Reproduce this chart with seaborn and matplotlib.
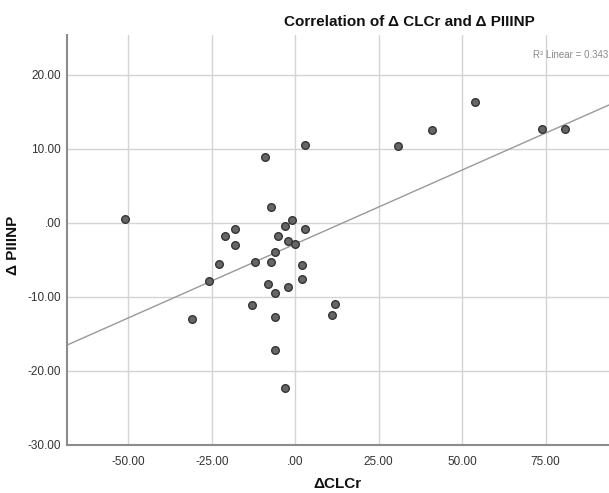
import numpy as np
import pandas as pd
import matplotlib
matplotlib.use("Agg")
import matplotlib.pyplot as plt
import seaborn as sns

# Values (delta CLCr vs delta PIIINP)
d_clcr = [-51.0, 2.9, -9.1, -7.2, -1.1, -3.1, 2.9, -18.1, -21.1, -18.1,
          -5.1, -2.1, 0.0, -6.1, -23.0, -12.0, -7.2, 2.0, -26.0, 2.0,
          -8.1, -2.1, -6.1, -13.0, -31.0, -6.0, 12.0, 11.0, -6.0, -3.1,
          30.9, 41.0, 53.9, 73.9, 80.9]
d_piiinp = [0.6, 10.6, 8.9, 2.1, 0.4, -0.45, -0.8, -0.8, -1.8, -3.0,
            -1.8, -2.5, -2.9, -3.9, -5.5, -5.3, -5.3, -5.7, -7.8, -7.6,
            -8.2, -8.7, -9.5, -11.1, -13.0, -12.7, -10.9, -12.4, -17.1, -22.3,
            10.4, 12.6, 16.4, 12.7, 12.7]

x_ticks = [-50, -25, 0, 25, 50, 75]
x_tick_labels = ["-50.00", "-25.00", ".00", "25.00", "50.00", "75.00"]
y_ticks = [-30, -20, -10, 0, 10, 20]
y_tick_labels = ["-30.00", "-20.00", "-10.00", ".00", "10.00", "20.00"]
r2_label = "R\u00b2 Linear = 0.343"

df = pd.DataFrame({"dCLCr": d_clcr, "dPIIINP": d_piiinp})

sns.set_style("white")
plt.rcParams["font.family"] = ["Liberation Sans", "DejaVu Sans"]

fig = plt.figure(figsize=(6.09, 4.93), dpi=100)
ax = fig.add_axes([0.1095, 0.0974, 0.8905, 0.8316])
ax.set_xlim(-68.5, 94)
ax.set_ylim(-30, 25.4)

ax.grid(True, color="#d4d4d4", linewidth=1)
ax.set_axisbelow(True)

sns.regplot(data=df, x="dCLCr", y="dPIIINP", ax=ax, ci=None, truncate=False,
            scatter_kws={"s": 30, "color": "#666666", "edgecolor": "#333333",
                         "linewidths": 1, "alpha": 1, "zorder": 3},
            line_kws={"color": "#999999", "linewidth": 1, "zorder": 2})
ax.set_xlim(-68.5, 94)
ax.set_ylim(-30, 25.4)

ax.set_xticks(x_ticks)
ax.set_xticklabels(x_tick_labels)
ax.set_yticks(y_ticks)
ax.set_yticklabels(y_tick_labels)
ax.tick_params(axis="x", length=0, labelsize=8.5, colors="#333333", pad=8)
ax.tick_params(axis="y", length=0, labelsize=8.5, colors="#333333", pad=4)

for side in ["top", "right"]:
    ax.spines[side].set_visible(False)
for side in ["left", "bottom"]:
    ax.spines[side].set_color("#8c8c8c")
    ax.spines[side].set_linewidth(1.5)

ax.set_xlabel("")
ax.set_ylabel("")
fig.text(337 / 609, 1 - 484 / 493, "\u0394CLCr", ha="center", va="center",
         fontsize=11, fontweight="bold", color="#111111")
fig.text(13 / 609, 1 - 245 / 493, "\u0394 PIIINP", ha="center", va="center",
         rotation=90, fontsize=11, fontweight="bold", color="#111111")

fig.text(0.673, 0.955, "Correlation of \u0394 CLCr and \u0394 PIIINP",
         ha="center", va="center", fontsize=11, fontweight="bold", color="#111111")
ax.text(0.998, 0.951, r2_label, transform=ax.transAxes,
        ha="right", va="center", fontsize=7, color="#888888")

fig.savefig("out.png", dpi=100)
